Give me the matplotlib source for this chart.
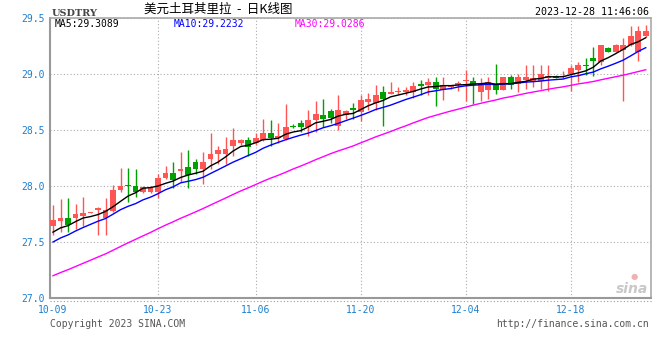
import matplotlib.pyplot as plt
from matplotlib.lines import Line2D
import numpy as np
import pandas as pd

# USDTRY daily candles 10-09 .. 12-28
opens = [27.64, 27.69, 27.71, 27.71, 27.73, 27.76, 27.79, 27.71, 27.78, 27.96,
         28.01, 28.00, 27.95, 27.95, 27.95, 28.07, 28.12, 28.13, 28.17, 28.21,
         28.15, 28.24, 28.29, 28.29, 28.36, 28.38, 28.41, 28.38, 28.41, 28.47,
         28.43, 28.42, 28.54, 28.56, 28.53, 28.59, 28.63, 28.67, 28.54, 28.63,
         28.70, 28.66, 28.75, 28.74, 28.84, 28.82, 28.84, 28.84, 28.84, 28.91,
         28.90, 28.93, 28.86, 28.88, 28.90, 28.94, 28.94, 28.84, 28.86, 28.91,
         28.86, 28.97, 28.91, 28.95, 28.93, 28.94, 28.96, 28.98, 28.97, 29.00,
         29.04, 29.08, 29.14, 29.11, 29.23, 29.20, 29.21, 29.26, 29.20, 29.34]
highs = [27.83, 27.88, 27.89, 27.84, 27.90, 27.77, 27.81, 27.89, 28.01, 28.16,
         28.16, 28.15, 28.00, 28.00, 28.11, 28.18, 28.21, 28.30, 28.32, 28.24,
         28.30, 28.47, 28.36, 28.44, 28.52, 28.42, 28.44, 28.47, 28.60, 28.59,
         28.56, 28.73, 28.55, 28.59, 28.68, 28.76, 28.78, 28.69, 28.81, 28.68,
         28.74, 28.81, 28.83, 28.90, 28.89, 28.93, 28.88, 28.88, 28.93, 28.95,
         28.96, 28.97, 28.97, 28.90, 28.94, 29.04, 28.97, 28.96, 28.97, 29.09,
         28.97, 28.99, 29.00, 29.08, 29.08, 29.08, 29.08, 28.99, 29.03, 29.08,
         29.11, 29.14, 29.24, 29.26, 29.24, 29.27, 29.32, 29.43, 29.43, 29.44]
lows = [27.56, 27.59, 27.59, 27.62, 27.64, 27.76, 27.56, 27.56, 27.77, 27.95,
        27.86, 27.90, 27.94, 27.94, 27.89, 28.06, 27.98, 28.04, 27.98, 28.11,
        28.02, 28.15, 28.20, 28.20, 28.27, 28.37, 28.27, 28.37, 28.40, 28.36,
        28.38, 28.41, 28.52, 28.48, 28.45, 28.48, 28.53, 28.56, 28.50, 28.60,
        28.60, 28.58, 28.68, 28.68, 28.54, 28.82, 28.82, 28.81, 28.79, 28.81,
        28.81, 28.71, 28.77, 28.87, 28.85, 28.76, 28.73, 28.76, 28.78, 28.82,
        28.86, 28.87, 28.84, 28.87, 28.88, 28.87, 28.85, 28.96, 28.96, 28.85,
        28.93, 28.99, 28.98, 29.08, 29.20, 29.20, 28.76, 29.25, 29.12, 29.33]
closes = [27.70, 27.71, 27.65, 27.75, 27.76, 27.765, 27.80, 27.79, 27.96, 28.00,
          28.00, 27.95, 27.99, 27.99, 28.07, 28.12, 28.05, 28.15, 28.10, 28.15,
          28.21, 28.29, 28.32, 28.33, 28.41, 28.41, 28.35, 28.43, 28.47, 28.43,
          28.45, 28.53, 28.53, 28.53, 28.59, 28.64, 28.60, 28.61, 28.68, 28.67,
          28.68, 28.77, 28.78, 28.81, 28.78, 28.84, 28.85, 28.86, 28.89, 28.89,
          28.93, 28.87, 28.90, 28.89, 28.92, 28.945, 28.90, 28.91, 28.93, 28.86,
          28.97, 28.90, 28.97, 28.97, 28.96, 29.00, 28.98, 28.96, 28.98, 29.05,
          29.08, 29.07, 29.12, 29.26, 29.20, 29.26, 29.26, 29.34, 29.38, 29.38]
# closes before 10-09 (estimated from where the MA lines start)
prior_closes = [26.86, 26.88, 26.90, 26.91, 26.92, 26.94, 26.96,
                26.98, 27.00, 27.01, 27.03, 27.05, 27.07, 27.07,
                27.16, 27.17, 27.21, 27.25, 27.28, 27.31,
                27.35, 27.38, 27.40, 27.45, 27.48, 27.52, 27.55, 27.57, 27.60]

date_labels = ['10-09', '10-23', '11-06', '11-20', '12-04', '12-18']
date_idx = [0, 14, 27, 41, 55, 69]
y_ticks = [27.0, 27.5, 28.0, 28.5, 29.0, 29.5]

RED = '#ff5555'
GREEN = '#00a000'
BLUE_TXT = '#1c7fd0'
MONO = 'DejaVu Sans Mono'

n = len(closes)
allc = pd.Series(prior_closes + closes)
ma5 = allc.rolling(5).mean().iloc[-n:].values
ma10 = allc.rolling(10).mean().iloc[-n:].values
ma30 = allc.rolling(30).mean().iloc[-n:].values

fig = plt.figure(figsize=(6.6, 3.6), dpi=100)
ax = fig.add_axes([50/660, 1-298/360, 601/660, 280/360])

x = np.arange(n)
o = np.array(opens)
c = np.array(closes)
cols = np.where(c >= o, RED, GREEN)
ax.vlines(x, lows, highs, colors=cols, lw=1, zorder=3)
ax.bar(x, np.maximum(np.abs(c - o), 0.009), bottom=np.minimum(o, c),
       width=0.78, color=cols, lw=0, zorder=3)

ax.plot(x, ma30, color='#ff00ff', lw=1, zorder=4)
ax.plot(x, ma10, color='#0000ff', lw=1, zorder=4)
ax.plot(x, ma5, color='black', lw=1, zorder=5)

ax.set_xlim(-0.4, 79.7)
ax.set_ylim(27.0, 29.5)
ax.set_yticks(y_ticks, ['%.1f' % t for t in y_ticks])
ax.set_xticks(date_idx, date_labels)
ax.grid(axis='y', ls=(0, (1, 2)), color='#aaaaaa', lw=0.8)
for d in date_idx[1:]:
    ax.axvline(d, ls=(0, (1, 2)), color='#aaaaaa', lw=0.8, zorder=1)
ax.tick_params(length=0, colors=BLUE_TXT, labelsize=7)
ax.tick_params(axis='y', pad=4)
ax.tick_params(axis='x', pad=5)
for lab in ax.get_xticklabels() + ax.get_yticklabels():
    lab.set_fontfamily(MONO)
for s in ['left', 'bottom']:
    ax.spines[s].set_color('#999999')
    ax.spines[s].set_linewidth(1.5)
for s in ['top', 'right']:
    ax.spines[s].set_color('#aaaaaa')
    ax.spines[s].set_linewidth(1.2)

fig.add_artist(Line2D([50/660, 653/660], [1-301/360]*2, ls=(0, (1, 2)),
                      color='#999999', lw=0.8))

# moving-average legend
ax.text(5/601, 1-6/280, 'MA5:29.3089', transform=ax.transAxes, color='black',
        fontsize=7, family=MONO, va='center')
ax.text(124/601, 1-6/280, 'MA10:29.2232', transform=ax.transAxes, color='#0000ff',
        fontsize=7, family=MONO, va='center')
ax.text(245/601, 1-6/280, 'MA30:29.0286', transform=ax.transAxes, color='#ff00ff',
        fontsize=7, family=MONO, va='center')

# header / footer
fig.text(52/660, 1-13/360, 'USDTRY', fontsize=7, family='DejaVu Serif',
         weight='bold', color='#444444', va='center')
fig.text(218/660, 1-9/360, '美元土耳其里拉  -  日K线图', fontsize=9,
         family=['Noto Sans CJK SC', 'DejaVu Sans'], ha='center', va='center')
fig.text(649/660, 1-12/360, '2023-12-28 11:46:06', fontsize=7.2, family=MONO,
         ha='right', va='center')
fig.text(50/660, 1-324/360, 'Copyright 2023 SINA.COM', fontsize=7, family=MONO,
         color='#555555', va='center')
fig.text(649/660, 1-324/360, 'http://finance.sina.com.cn', fontsize=7,
         family=MONO, color='#555555', ha='right', va='center')
fig.text(648/660, 1-289/360, 'sina', fontsize=10, style='italic', weight='bold',
         color='#c8c8c8', ha='right', va='center')
fig.text(634/660, 1-277/360, '●', fontsize=6, color='#f2b0b0',
         ha='center', va='center')

plt.savefig('out.png', dpi=100)
